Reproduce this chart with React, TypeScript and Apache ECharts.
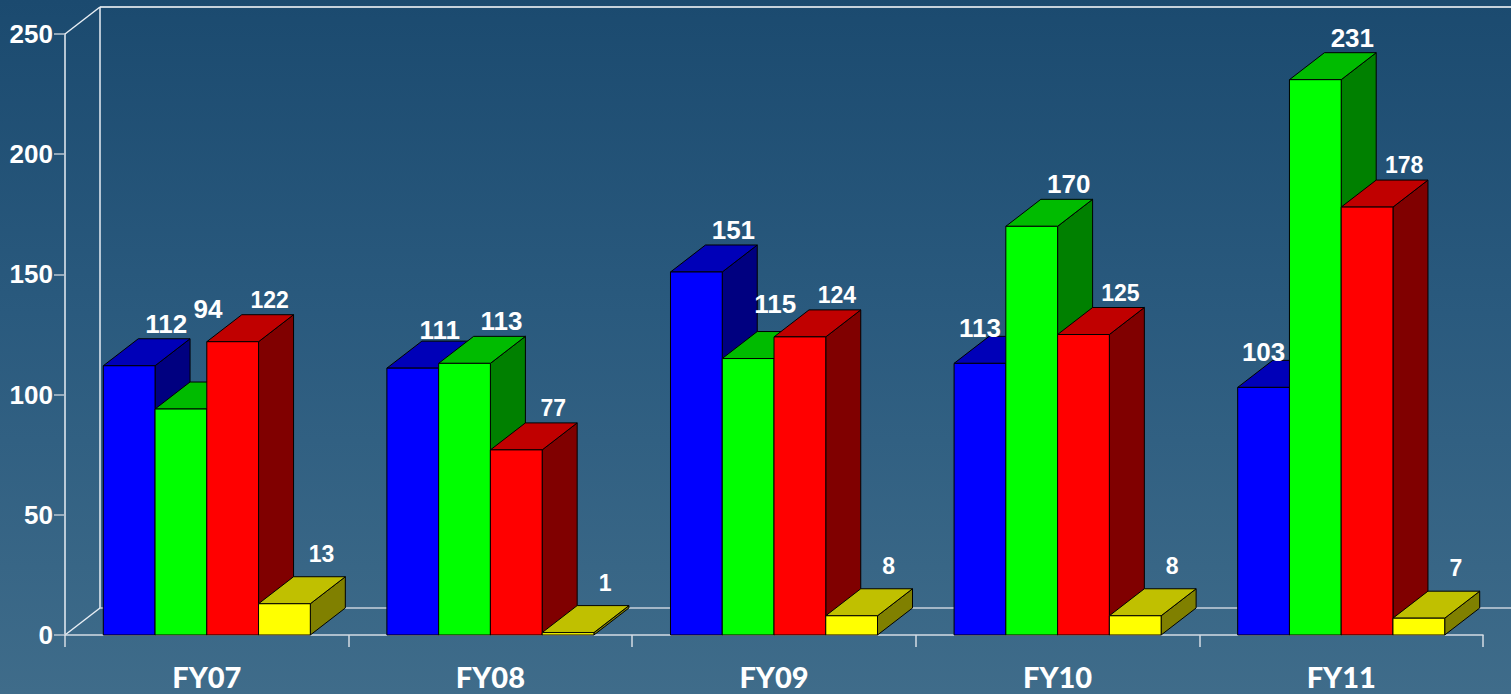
import React, { useEffect, useRef } from "react";
import * as echarts from "echarts";

const categories = ["FY07", "FY08", "FY09", "FY10", "FY11"];
const blueValues = [112, 111, 151, 113, 103];
const greenValues = [94, 113, 115, 170, 231];
const redValues = [122, 77, 124, 125, 178];
const yellowValues = [13, 1, 8, 8, 7];
const yTicks = [0, 50, 100, 150, 200, 250];

const seriesValues = [blueValues, greenValues, redValues, yellowValues];
const palettes = [
  { front: "#0000ff", top: "#0000b8", side: "#000080" },
  { front: "#00ff00", top: "#00bb00", side: "#008000" },
  { front: "#ff0000", top: "#c00000", side: "#800000" },
  { front: "#ffff00", top: "#c0c000", side: "#808000" },
];

const W = 1511;
const H = 694;
const GRID_LEFT = 65;
const GRID_TOP = 34;
const GRID_WIDTH = 1418;
const GRID_HEIGHT = 601;
const DX = 35;
const DY = -27;
const GROUP_RATIO = 0.73;

function makeRenderItem(s: number) {
  return (params: any, api: any) => {
    const cat = api.value(0);
    const v = api.value(1);
    const base = api.coord([cat, 0]);
    const topPt = api.coord([cat, v]);
    const catW = api.size([1, 0])[0];
    const groupW = catW * GROUP_RATIO;
    const barW = groupW / 4;
    const x0 = base[0] - groupW / 2 + s * barW;
    const x1 = x0 + barW;
    const yb = base[1];
    const yt = topPt[1];
    const pal = palettes[s];
    const stroke = { stroke: "#000", lineWidth: 1 };

    // label placement
    const c = x0 + barW / 2;
    const ownBackTop = yt + DY;
    let lx = c + 37;
    let ly = ownBackTop - (s === 3 ? 23 : 15);
    if (s < 3) {
      const nv = seriesValues[s + 1][cat];
      if (nv > v) {
        const nextTop = api.coord([cat, nv])[1];
        const diff = yt - nextTop;
        if (diff <= 75) {
          lx = c + 27;
          ly = nextTop - 33;
        } else {
          lx = c;
          ly = ownBackTop - 8;
        }
      }
    }

    return {
      type: "group",
      children: [
        {
          type: "polygon",
          z2: s * 10,
          shape: {
            points: [
              [x1, yt],
              [x1 + DX, yt + DY],
              [x1 + DX, yb + DY],
              [x1, yb],
            ],
          },
          style: { fill: pal.side, ...stroke },
        },
        {
          type: "polygon",
          z2: s * 10 + 1,
          shape: {
            points: [
              [x0, yt],
              [x1, yt],
              [x1 + DX, yt + DY],
              [x0 + DX, yt + DY],
            ],
          },
          style: { fill: pal.top, ...stroke },
        },
        {
          type: "rect",
          z2: s * 10 + 2,
          shape: { x: x0, y: yt, width: barW, height: yb - yt },
          style: { fill: pal.front, ...stroke },
        },
        {
          type: "text",
          z2: 100,
          x: lx,
          y: ly,
          style: {
            text: String(v),
            fill: "#ffffff",
            fontFamily: "'Liberation Sans', Arial, sans-serif",
            fontWeight: "bold",
            fontSize: s < 2 ? 26 : 23,
            align: "center",
            verticalAlign: "middle",
          },
        },
      ],
    };
  };
}

export default function App() {
  const ref = useRef<HTMLDivElement>(null);
  useEffect(() => {
    if (!ref.current) return;
    const chart = echarts.init(ref.current, undefined, { renderer: "svg" });
    const frameColor = "#e8eef4";
    const backL = GRID_LEFT + DX;
    const backTop = GRID_TOP + DY;
    const floorFront = GRID_TOP + GRID_HEIGHT;
    const floorBack = floorFront + DY;
    const option: any = {
      animation: false,
      backgroundColor: "transparent",
      grid: {
        left: GRID_LEFT,
        top: GRID_TOP,
        width: GRID_WIDTH,
        height: GRID_HEIGHT,
        containLabel: false,
      },
      graphic: [
        { type: "line", z: 0, shape: { x1: backL, y1: backTop, x2: W, y2: backTop }, style: { stroke: "#ffffff", lineWidth: 1.5 } },
        { type: "line", z: 0, shape: { x1: backL, y1: backTop, x2: backL, y2: floorBack }, style: { stroke: frameColor, lineWidth: 1.5 } },
        { type: "line", z: 0, shape: { x1: backL, y1: floorBack, x2: W, y2: floorBack }, style: { stroke: "#c8d2dc", lineWidth: 1.5 } },
        { type: "line", z: 0, shape: { x1: GRID_LEFT, y1: GRID_TOP, x2: backL, y2: backTop }, style: { stroke: frameColor, lineWidth: 1.5 } },
        { type: "line", z: 0, shape: { x1: GRID_LEFT, y1: floorFront, x2: backL, y2: floorBack }, style: { stroke: frameColor, lineWidth: 1.5 } },
      ],
      xAxis: {
        type: "category",
        data: categories,
        boundaryGap: true,
        axisLine: { show: true, lineStyle: { color: "#d4dce4", width: 1.5 } },
        axisTick: { show: true, length: 12, alignWithLabel: false, lineStyle: { color: "#d4dce4", width: 1.5 } },
        axisLabel: {
          color: "#ffffff",
          fontFamily: "Lato, 'Open Sans', sans-serif",
          fontWeight: 900,
          fontSize: 29,
          margin: 27,
        },
        splitLine: { show: false },
      },
      yAxis: {
        type: "value",
        min: yTicks[0],
        max: yTicks[yTicks.length - 1],
        interval: 50,
        axisLine: { show: true, lineStyle: { color: "#e8eef4", width: 1.5 } },
        axisTick: { show: true, length: 11, lineStyle: { color: "#b8c4d0", width: 1.5 } },
        axisLabel: {
          color: "#ffffff",
          fontFamily: "'Liberation Sans', Arial, sans-serif",
          fontWeight: "bold",
          fontSize: 26,
          margin: 12,
        },
        splitLine: { show: false },
      },
      series: seriesValues.map((vals, s) => ({
        type: "custom",
        name: ["Blue", "Green", "Red", "Yellow"][s],
        renderItem: makeRenderItem(s),
        clip: false,
        encode: { x: 0, y: 1 },
        data: vals.map((v, i) => [i, v]),
      })),
    };
    chart.setOption(option);
    return () => chart.dispose();
  }, []);
  return (
    <div
      ref={ref}
      style={{
        position: "absolute",
        left: 0,
        top: 0,
        width: W,
        height: H,
        background: "linear-gradient(to bottom, #1b4a6f 0%, #2a5a7e 45%, #3f6c8a 100%)",
      }}
    />
  );
}
